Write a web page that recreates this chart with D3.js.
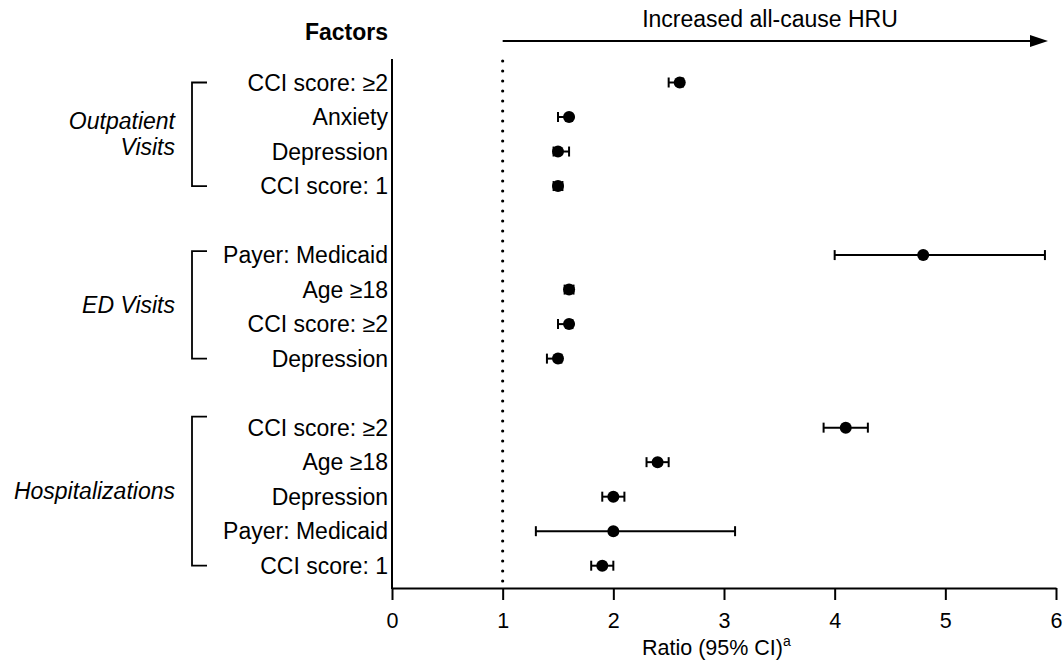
<!DOCTYPE html>
<html>
<head>
<meta charset="utf-8">
<script src="https://cdn.jsdelivr.net/npm/d3@7"></script>
<style>
  body { margin: 0; background: #fff; }
  svg { font-family: "Liberation Sans", Arial, sans-serif; }
</style>
</head>
<body>
<svg id="chart" width="1064" height="670"></svg>
<script>
// Groups (top to bottom)
const groupNames = [["Outpatient", "Visits"], ["ED Visits"], ["Hospitalizations"]];

// Outpatient visits
const outpatientFactors = ["CCI score: ≥2", "Anxiety", "Depression", "CCI score: 1"];
const outpatientRatio = [2.6, 1.6, 1.5, 1.5];
const outpatientLower = [2.5, 1.5, 1.46, 1.46];
const outpatientUpper = [2.63, 1.62, 1.6, 1.54];

// ED visits
const edFactors = ["Payer: Medicaid", "Age ≥18", "CCI score: ≥2", "Depression"];
const edRatio = [4.8, 1.6, 1.6, 1.5];
const edLower = [4.0, 1.56, 1.5, 1.4];
const edUpper = [5.9, 1.64, 1.63, 1.53];

// Hospitalizations
const hospFactors = ["CCI score: ≥2", "Age ≥18", "Depression", "Payer: Medicaid", "CCI score: 1"];
const hospRatio = [4.1, 2.4, 2.0, 2.0, 1.9];
const hospLower = [3.9, 2.3, 1.9, 1.3, 1.8];
const hospUpper = [4.3, 2.5, 2.1, 3.1, 2.0];

const xTicks = [0, 1, 2, 3, 4, 5, 6];
const refLine = 1;

const svg = d3.select("#chart");

// build rows, one empty slot between groups
const groupData = [
  [outpatientFactors, outpatientRatio, outpatientLower, outpatientUpper],
  [edFactors, edRatio, edLower, edUpper],
  [hospFactors, hospRatio, hospLower, hospUpper]
];
const rows = [];
const groupRange = [];
let idx = 0;
groupData.forEach(([f, r, lo, hi], g) => {
  const start = idx;
  f.forEach((name, i) => {
    rows.push({ group: g, name: name, ratio: r[i], lower: lo[i], upper: hi[i], idx: idx });
    idx++;
  });
  groupRange.push([start, idx - 1]);
  idx++; // gap
});
const lastIdx = idx - 2;

const x = d3.scaleLinear().domain([0, 6]).range([392, 1056]);
const y = d3.scaleLinear().domain([0, lastIdx]).range([82.5, 565.7]);

const axisTop = 59, axisBottom = 588;

// reference dotted line at 1
svg.append("line")
  .attr("x1", x(refLine)).attr("x2", x(refLine))
  .attr("y1", axisTop + 2).attr("y2", axisBottom - 4)
  .attr("stroke", "#000")
  .attr("stroke-width", 3.2)
  .attr("stroke-linecap", "round")
  .attr("stroke-dasharray", "0 10");

// x axis
const xAxis = svg.append("g")
  .attr("transform", `translate(0,${axisBottom})`)
  .call(d3.axisBottom(x).tickValues(xTicks).tickFormat(d3.format("d")).tickSize(12).tickSizeOuter(0));
xAxis.select(".domain").attr("stroke", "#000").attr("stroke-width", 2);
xAxis.selectAll(".tick line").attr("stroke", "#000").attr("stroke-width", 2);
xAxis.selectAll(".tick text")
  .attr("font-size", 21.5)
  .attr("font-family", "Liberation Sans, Arial, sans-serif")
  .attr("fill", "#000")
  .attr("dy", 0)
  .attr("y", 39.5);

// y axis line
svg.append("line")
  .attr("x1", x(0)).attr("x2", x(0))
  .attr("y1", axisTop).attr("y2", axisBottom + 1)
  .attr("stroke", "#000").attr("stroke-width", 2);

// x axis title
const xt = svg.append("text")
  .attr("x", 642).attr("y", 655)
  .attr("font-size", 21.5)
  .attr("fill", "#000")
  .text("Ratio (95% CI)");
xt.append("tspan").attr("font-size", 14).attr("dy", -9).text("a");

// header
svg.append("text")
  .attr("x", 388).attr("y", 40)
  .attr("text-anchor", "end")
  .attr("font-size", 23).attr("font-weight", "bold")
  .text("Factors");

svg.append("text")
  .attr("x", 770).attr("y", 27)
  .attr("text-anchor", "middle")
  .attr("font-size", 23)
  .text("Increased all-cause HRU");

svg.append("line")
  .attr("x1", x(refLine)).attr("x2", 1032)
  .attr("y1", 41).attr("y2", 41)
  .attr("stroke", "#000").attr("stroke-width", 2.2);
svg.append("path")
  .attr("d", "M1030,35 L1048,41 L1030,47 Z")
  .attr("fill", "#000");

// factor labels
svg.append("g").selectAll("text")
  .data(rows)
  .join("text")
  .attr("x", 388)
  .attr("y", d => y(d.idx) + 8)
  .attr("text-anchor", "end")
  .attr("font-size", 23)
  .attr("fill", "#000")
  .text(d => d.name);

// brackets and group labels
const bracketTopPad = [0, 4, 11];
groupRange.forEach(([a, b], g) => {
  const top = y(a) - bracketTopPad[g];
  const bot = y(b);
  svg.append("path")
    .attr("d", `M207,${top} H192 V${bot} H207`)
    .attr("fill", "none")
    .attr("stroke", "#000")
    .attr("stroke-width", 1.8);
  const mid = (top + bot) / 2;
  const lines = groupNames[g];
  const lh = 26;
  lines.forEach((t, i) => {
    svg.append("text")
      .attr("x", 175)
      .attr("y", mid + 8 + (i - (lines.length - 1) / 2) * lh)
      .attr("text-anchor", "end")
      .attr("font-size", 23)
      .attr("font-style", "italic")
      .text(t);
  });
});

// error bars
const bars = svg.append("g").selectAll("g")
  .data(rows)
  .join("g")
  .attr("stroke", "#000")
  .attr("stroke-width", 2);
bars.append("line")
  .attr("x1", d => x(d.lower)).attr("x2", d => x(d.upper))
  .attr("y1", d => y(d.idx)).attr("y2", d => y(d.idx));
bars.append("line")
  .attr("x1", d => x(d.lower)).attr("x2", d => x(d.lower))
  .attr("y1", d => y(d.idx) - 5).attr("y2", d => y(d.idx) + 5);
bars.append("line")
  .attr("x1", d => x(d.upper)).attr("x2", d => x(d.upper))
  .attr("y1", d => y(d.idx) - 5).attr("y2", d => y(d.idx) + 5);

// points
svg.append("g").selectAll("circle")
  .data(rows)
  .join("circle")
  .attr("cx", d => x(d.ratio))
  .attr("cy", d => y(d.idx))
  .attr("r", 6)
  .attr("fill", "#000");
</script>
</body>
</html>
